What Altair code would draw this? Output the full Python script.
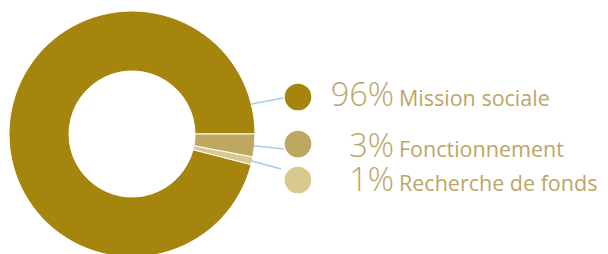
import math
import altair as alt
import pandas as pd

# ---- data ----
categories = ["Mission sociale", "Fonctionnement", "Recherche de fonds"]
values = [96, 3, 1]
pct_labels = ["96%", "3%", "1%"]
colors = ["#a5850d", "#bda860", "#d8c98e"]
arc_order = [2, 0, 1]  # drawing order starting at 3 o'clock, clockwise

# ---- layout (pixels, plot-area coordinates) ----
W, H = 592, 246
CX, CY = 124, 126
R_OUT, R_IN = 123, 63
row_y = [89, 136, 172]          # legend circle centres
circle_x = 290
text_base = [98, 149, 183]      # text baselines
pct_right = 386
label_left = 391
leader_end = [(275, 90), (276, 141), (273, 161)]
leader_angle_mission = 76.0     # degrees clockwise from 12 o'clock

# angles of slice midpoints (clockwise from 12 o'clock, starting at 90deg)
total = sum(values)
start = 90.0
mid = {}
for i in sorted(range(len(values)), key=lambda k: arc_order[k]):
    span = values[i] / total * 360
    mid[i] = start + span / 2
    start += span
mid[0] = leader_angle_mission

df = pd.DataFrame({
    "cat": categories,
    "value": values,
    "pct": pct_labels,
    "ord": arc_order,
    "row": row_y,
    "base": text_base,
})
df["x1"] = [CX + R_OUT * math.sin(math.radians(mid[i])) - 1 for i in range(3)]
df["y1"] = [CY - R_OUT * math.cos(math.radians(mid[i])) for i in range(3)]
df["x2"] = [p[0] for p in leader_end]
df["y2"] = [p[1] for p in leader_end]
df["cx"] = circle_x
df["px"] = pct_right
df["lx"] = label_left

color = alt.Color("cat:N", scale=alt.Scale(domain=categories, range=colors), legend=None)

base = alt.Chart(df)

donut = base.mark_arc(
    innerRadius=R_IN, outerRadius=R_OUT, stroke="white", strokeWidth=1
).encode(
    theta=alt.Theta("value:Q", stack=True,
                    scale=alt.Scale(range=[math.pi / 2, math.pi / 2 + 2 * math.pi])),
    order=alt.Order("ord:Q"),
    color=color,
    x=alt.value(CX),
    y=alt.value(CY),
)

leaders = base.mark_rule(color="#a9cbe3", strokeWidth=1.5).encode(
    x=alt.X("x1:Q", scale=None),
    y=alt.Y("y1:Q", scale=None),
    x2="x2:Q",
    y2="y2:Q",
)

dots = base.mark_circle(size=math.pi * 15 ** 2, opacity=1).encode(
    x=alt.X("cx:Q", scale=None),
    y=alt.Y("row:Q", scale=None),
    color=color,
)

pct = base.mark_text(
    align="right", baseline="alphabetic", font="Open Sans", fontWeight=300,
    fontSize=32.5, color="#bca566"
).encode(
    x=alt.X("px:Q", scale=None),
    y=alt.Y("base:Q", scale=None),
    text="pct:N",
)

labels = base.mark_text(
    align="left", baseline="alphabetic", font="Open Sans", fontWeight=400,
    fontSize=21.5, color="#bca566"
).encode(
    x=alt.X("lx:Q", scale=None),
    y=alt.Y("base:Q", scale=None),
    text="cat:N",
)

chart = alt.layer(donut, leaders, dots, pct, labels).properties(
    width=W, height=H, padding=0, autosize="none"
).configure_view(stroke=None)

chart.save("out.html", embed_options={"renderer": "svg", "actions": False})
